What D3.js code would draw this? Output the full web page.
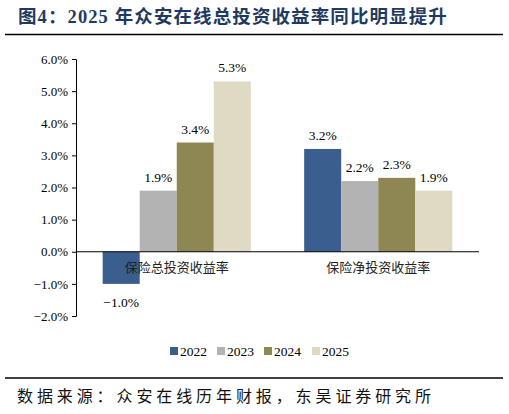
<!DOCTYPE html>
<html>
<head>
<meta charset="utf-8">
<script src="https://cdn.jsdelivr.net/npm/d3@7"></script>
<style>
  body { margin: 0; background: #fff; }
  svg { display: block; }
</style>
</head>
<body>
<svg id="chart" width="509" height="414"></svg>
<script>
// chart data
var categories = ["保险总投资收益率", "保险净投资收益率"];
var years = ["2022", "2023", "2024", "2025"];
var values2022 = [-1.0, 3.2];
var values2023 = [1.9, 2.2];
var values2024 = [3.4, 2.3];
var values2025 = [5.3, 1.9];
var yTicks = [-2, -1, 0, 1, 2, 3, 4, 5, 6];
var colors = ["#3A5E8E", "#B3B3B3", "#8F8753", "#DEDAC4"];

var seriesValues = [values2022, values2023, values2024, values2025];

var svg = d3.select("#chart");

// title
svg.append("text")
    .attr("x", 18)
    .attr("y", 23)
    .style("font-family", "'Liberation Serif', 'Noto Sans CJK SC', serif")
    .style("font-weight", "bold")
    .style("font-size", "18.5px")
    .style("letter-spacing", "1.1px")
    .style("fill", "#1F3A60")
    .text("图4：2025 年众安在线总投资收益率同比明显提升");

svg.append("line")
    .attr("x1", 5).attr("x2", 503)
    .attr("y1", 34.5).attr("y2", 34.5)
    .style("stroke", "#000").style("stroke-width", 1.5);

// plot area
var plotLeft = 76, plotRight = 479, plotTop = 59, plotBottom = 316;

var x = d3.scaleBand()
    .domain(categories)
    .range([plotLeft, plotRight])
    .paddingInner(0)
    .paddingOuter(0);

var xSub = d3.scaleBand()
    .domain(years)
    .range([0, x.bandwidth()])
    .paddingOuter(0.72)
    .paddingInner(0);

var y = d3.scaleLinear()
    .domain([-2, 6])
    .range([plotBottom, plotTop]);

// y axis
var yAxis = d3.axisLeft(y)
    .tickValues(yTicks)
    .tickSize(4)
    .tickSizeOuter(4)
    .tickFormat(function(d) { return d3.format(".1f")(d) + "%"; });

svg.append("g")
    .attr("transform", "translate(" + plotLeft + ",0)")
    .call(yAxis)
    .call(function(g) {
        g.selectAll("path, line").style("stroke", "#000");
        g.selectAll("text")
            .attr("x", -8)
            .style("font-family", "'Liberation Serif', serif")
            .style("font-size", "13px")
            .style("fill", "#000");
    });

// bars
var rows = [];
years.forEach(function(yr, i) {
    categories.forEach(function(cat, j) {
        rows.push({ year: yr, cat: cat, value: seriesValues[i][j], color: colors[i] });
    });
});

svg.append("g").selectAll("rect")
    .data(rows)
    .enter()
    .append("rect")
    .attr("x", function(d) { return x(d.cat) + xSub(d.year); })
    .attr("width", xSub.bandwidth())
    .attr("y", function(d) { return y(Math.max(0, d.value)); })
    .attr("height", function(d) { return Math.abs(y(d.value) - y(0)); })
    .style("fill", function(d) { return d.color; });

// data labels
svg.append("g").selectAll("text")
    .data(rows)
    .enter()
    .append("text")
    .attr("x", function(d) { return x(d.cat) + xSub(d.year) + xSub.bandwidth() / 2; })
    .attr("y", function(d) { return d.value < 0 ? y(d.value) + 23 : y(d.value) - 9; })
    .attr("text-anchor", "middle")
    .style("font-family", "'Liberation Serif', serif")
    .style("font-size", "13.5px")
    .text(function(d) { return d3.format(".1f")(d.value) + "%"; });

// zero line
svg.append("line")
    .attr("x1", plotLeft).attr("x2", plotRight)
    .attr("y1", y(0)).attr("y2", y(0))
    .style("stroke", "#000").style("stroke-width", 1);

// category labels
svg.append("g").selectAll("text")
    .data(categories)
    .enter()
    .append("text")
    .attr("x", function(d) { return x(d) + x.bandwidth() / 2; })
    .attr("y", y(0) + 20)
    .attr("text-anchor", "middle")
    .style("font-family", "'Noto Sans CJK SC', sans-serif")
    .style("font-size", "13px")
    .style("fill", "#222")
    .text(function(d) { return d; });

// legend
var legendX = [170, 217, 264, 312];
var legend = svg.append("g").selectAll("g")
    .data(years)
    .enter()
    .append("g")
    .attr("transform", function(d, i) { return "translate(" + legendX[i] + ",347)"; });

legend.append("rect")
    .attr("width", 8).attr("height", 8)
    .style("fill", function(d, i) { return colors[i]; });

legend.append("text")
    .attr("x", 10)
    .attr("y", 9)
    .style("font-family", "'Liberation Serif', serif")
    .style("font-size", "13.5px")
    .text(function(d) { return d; });

// footer
svg.append("line")
    .attr("x1", 5).attr("x2", 503)
    .attr("y1", 378).attr("y2", 378)
    .style("stroke", "#000").style("stroke-width", 1.5);

svg.append("text")
    .attr("x", 17)
    .attr("y", 402)
    .style("font-family", "'Noto Sans CJK SC', sans-serif")
    .style("font-size", "16px")
    .style("letter-spacing", "3.9px")
    .style("fill", "#111")
    .text("数据来源：众安在线历年财报，东吴证券研究所");
</script>
</body>
</html>
